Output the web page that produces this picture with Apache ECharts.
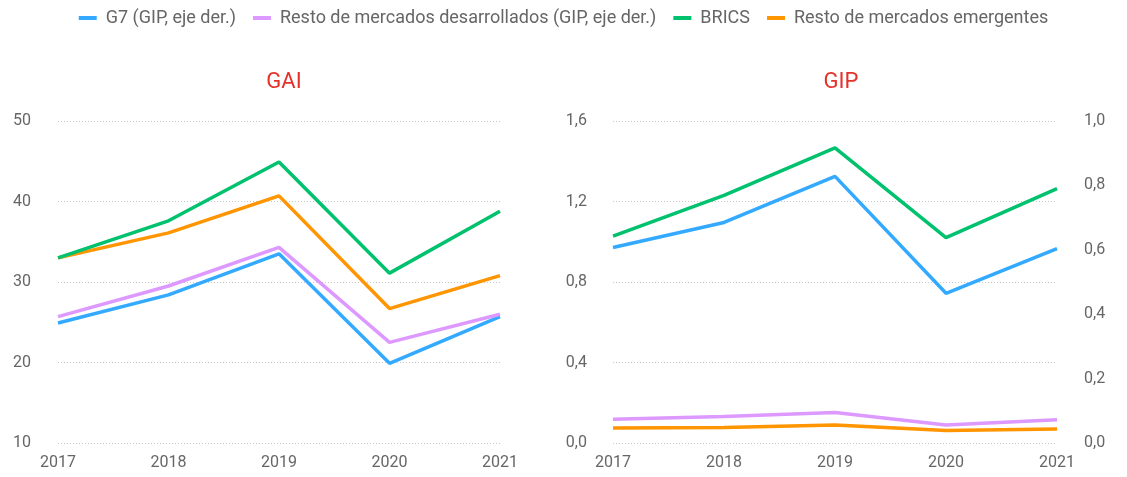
<!DOCTYPE html>
<html>
<head>
<meta charset="utf-8">
<script src="https://cdn.jsdelivr.net/npm/echarts@6/dist/echarts.min.js"></script>
<style>
  html, body { margin: 0; padding: 0; background: #fff; }
  #chart { width: 1127px; height: 477px; }
</style>
</head>
<body>
<div id="chart"></div>
<script>
const years = ['2017', '2018', '2019', '2020', '2021']
const seriesNames = ['G7 (GIP, eje der.)', 'Resto de mercados desarrollados (GIP, eje der.)', 'BRICS', 'Resto de mercados emergentes']
const colors = ['#33aaff', '#dd99ff', '#00c26e', '#ff9500']

// GAI
const gaiG7 = [24.9, 28.4, 33.5, 19.9, 25.7]
const gaiDesarrollados = [25.7, 29.5, 34.3, 22.5, 26.0]
const gaiBrics = [33.0, 37.6, 44.9, 31.1, 38.8]
const gaiEmergentes = [33.0, 36.1, 40.7, 26.7, 30.8]

// GIP (G7 y desarrollados en eje derecho)
const gipG7 = [0.607, 0.685, 0.828, 0.465, 0.604]
const gipDesarrollados = [0.074, 0.082, 0.095, 0.056, 0.072]
const gipBrics = [1.028, 1.23, 1.466, 1.02, 1.264]
const gipEmergentes = [0.074, 0.077, 0.089, 0.062, 0.069]

const labelColor = '#666'
const font = 'Roboto, "DejaVu Sans", sans-serif'
const fmtComma = (d) => (v) => v.toFixed(d).replace('.', ',')

const splitLine = { show: true, lineStyle: { color: '#c8c8c8', type: [1, 2], width: 1 } }

function xAxis(gridIndex) {
  return {
    type: 'category',
    gridIndex,
    data: years,
    boundaryGap: false,
    axisLine: { show: false },
    axisTick: { show: false },
    axisLabel: { color: labelColor, fontSize: 16, fontFamily: font, margin: 12 },
  }
}

function line(name, data, xIdx, yIdx, color) {
  return {
    name,
    type: 'line',
    xAxisIndex: xIdx,
    yAxisIndex: yIdx,
    data,
    showSymbol: false,
    symbol: 'none',
    lineStyle: { width: 3.5, color },
    itemStyle: { color },
  }
}

const option = {
  animation: false,
  backgroundColor: '#fff',
  textStyle: { fontFamily: font },
  legend: {
    top: 4,
    left: 'center',
    data: seriesNames,
    icon: 'rect',
    itemWidth: 18,
    itemHeight: 4,
    itemGap: 17,
    textStyle: { color: labelColor, fontSize: 18, fontFamily: font, padding: [0, 0, 0, 4] },
  },
  title: [
    { text: 'GAI', left: 279, top: 66, textAlign: 'center', textStyle: { color: '#e4322b', fontSize: 22, fontWeight: 'normal', fontFamily: font } },
    { text: 'GIP', left: 836, top: 66, textAlign: 'center', textStyle: { color: '#e4322b', fontSize: 22, fontWeight: 'normal', fontFamily: font } },
  ],
  grid: [
    { left: 58, right: 627, top: 121, bottom: 34 },
    { left: 613, right: 70, top: 121, bottom: 34 },
  ],
  xAxis: [xAxis(0), xAxis(1)],
  yAxis: [
    {
      type: 'value', gridIndex: 0, min: 10, max: 50, interval: 10,
      axisLine: { show: false }, axisTick: { show: false },
      axisLabel: { color: labelColor, fontSize: 16, fontFamily: font, margin: 27 },
      splitLine,
    },
    {
      type: 'value', gridIndex: 1, min: 0, max: 1.6, interval: 0.4,
      axisLine: { show: false }, axisTick: { show: false },
      axisLabel: { color: labelColor, fontSize: 16, fontFamily: font, margin: 26, formatter: fmtComma(1) },
      splitLine,
    },
    {
      type: 'value', gridIndex: 1, position: 'right', min: 0, max: 1.0, interval: 0.2,
      axisLine: { show: false }, axisTick: { show: false },
      axisLabel: { color: labelColor, fontSize: 16, fontFamily: font, margin: 27, formatter: fmtComma(1) },
      splitLine: { show: false },
    },
  ],
  series: [
    line(seriesNames[0], gaiG7, 0, 0, colors[0]),
    line(seriesNames[1], gaiDesarrollados, 0, 0, colors[1]),
    line(seriesNames[3], gaiEmergentes, 0, 0, colors[3]),
    line(seriesNames[2], gaiBrics, 0, 0, colors[2]),
    line(seriesNames[0], gipG7, 1, 2, colors[0]),
    line(seriesNames[1], gipDesarrollados, 1, 2, colors[1]),
    line(seriesNames[3], gipEmergentes, 1, 1, colors[3]),
    line(seriesNames[2], gipBrics, 1, 1, colors[2]),
  ],
}

const chart = echarts.init(document.getElementById('chart'))
chart.setOption(option)
window.addEventListener('resize', () => chart.resize())
</script>
</body>
</html>
